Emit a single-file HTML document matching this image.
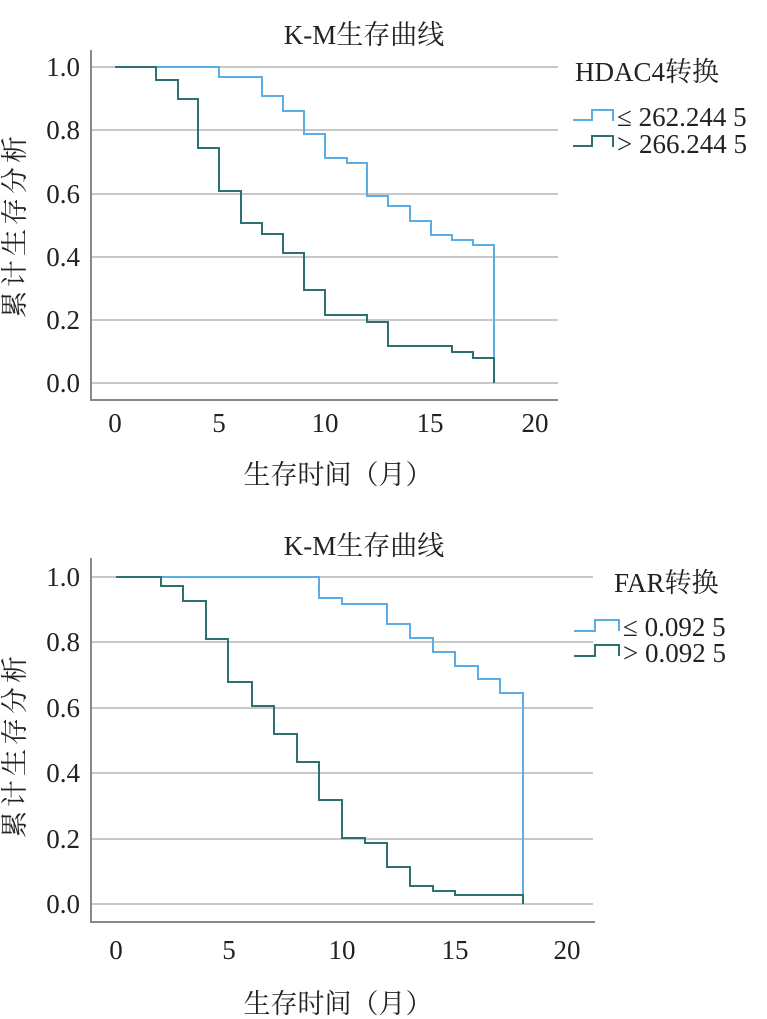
<!DOCTYPE html>
<html><head><meta charset="utf-8"><style>
html,body{margin:0;padding:0;background:#fff;}
svg{display:block;}
text{font-family:"Liberation Serif","Noto Serif CJK SC",serif;fill:#222;}
</style></head><body>
<svg width="767" height="1019" viewBox="0 0 767 1019">
<g stroke="#c8c8c8" stroke-width="2">
<line x1="91" y1="67" x2="558" y2="67"/><line x1="91" y1="130" x2="558" y2="130"/><line x1="91" y1="194" x2="558" y2="194"/><line x1="91" y1="257" x2="558" y2="257"/><line x1="91" y1="320" x2="558" y2="320"/><line x1="91" y1="383" x2="558" y2="383"/>
<line x1="91" y1="577" x2="593" y2="577"/><line x1="91" y1="642" x2="593" y2="642"/><line x1="91" y1="708" x2="593" y2="708"/><line x1="91" y1="773" x2="593" y2="773"/><line x1="91" y1="839" x2="593" y2="839"/><line x1="91" y1="904" x2="593" y2="904"/>
</g>
<g stroke="#888" stroke-width="2" fill="none">
<polyline points="91,50 91,400 558,400"/>
<polyline points="91,558 91,922 595,922"/>
</g>
<g fill="none" stroke-width="2">
<polyline stroke="#5aaee3" points="115,67 219,67 219,77 262,77 262,96 283,96 283,111 304,111 304,134 325,134 325,158 347,158 347,163 367,163 367,196 388,196 388,206 410,206 410,221 431,221 431,235 452,235 452,240 473,240 473,245 494,245 494,383"/>
<polyline stroke="#2e7070" points="115,67 156,67 156,80 178,80 178,99 198,99 198,148 219,148 219,191 241,191 241,223 262,223 262,234 283,234 283,253 304,253 304,290 325,290 325,315 367,315 367,322 388,322 388,346 452,346 452,352 473,352 473,358 494,358 494,383"/>
<polyline stroke="#5aaee3" points="116,577 319,577 319,598 342,598 342,604 387,604 387,624 410,624 410,638 433,638 433,652 455,652 455,666 478,666 478,679 500,679 500,693 523,693 523,904"/>
<polyline stroke="#2e7070" points="116,577 161,577 161,586 183,586 183,601 206,601 206,639 228,639 228,682 252,682 252,706 274,706 274,734 297,734 297,762 319,762 319,800 342,800 342,838 365,838 365,843 387,843 387,867 410,867 410,886 433,886 433,891 455,891 455,895 523,895 523,904"/>
<polyline stroke="#5aaee3" points="573,120 592,120 592,110 613,110 613,121"/>
<polyline stroke="#2e7070" points="573,146 592,146 592,136 613,136 613,147"/>
<polyline stroke="#5aaee3" points="574,631 595,631 595,620 619,620 619,631"/>
<polyline stroke="#2e7070" points="574,656 595,656 595,645 619,645 619,656"/>
</g>
<g font-size="27" text-anchor="end">
<text x="80" y="76">1.0</text><text x="80" y="139">0.8</text><text x="80" y="203">0.6</text><text x="80" y="266">0.4</text><text x="80" y="329">0.2</text><text x="80" y="392">0.0</text>
<text x="80" y="586">1.0</text><text x="80" y="651">0.8</text><text x="80" y="717">0.6</text><text x="80" y="782">0.4</text><text x="80" y="848">0.2</text><text x="80" y="913">0.0</text>
</g>
<g font-size="27" text-anchor="middle">
<text x="115" y="432">0</text><text x="219" y="432">5</text><text x="325" y="432">10</text><text x="430" y="432">15</text><text x="535" y="432">20</text>
<text x="116" y="959">0</text><text x="229" y="959">5</text><text x="342" y="959">10</text><text x="455" y="959">15</text><text x="567" y="959">20</text>
<text x="364" y="44">K-M生存曲线</text>
<text x="364" y="555">K-M生存曲线</text>
<text x="338" y="484">生存时间（月）</text>
<text x="338" y="1013">生存时间（月）</text>
<text transform="translate(24,225) rotate(-90)" letter-spacing="4">累计生存分析</text>
<text transform="translate(24,745) rotate(-90)" letter-spacing="4">累计生存分析</text>
</g>
<g font-size="27">
<text x="575" y="81">HDAC4转换</text>
<text x="617" y="126">≤ 262.244 5</text>
<text x="617" y="153">&gt; 266.244 5</text>
<text x="614" y="592">FAR转换</text>
<text x="623" y="636">≤ 0.092 5</text>
<text x="623" y="662">&gt; 0.092 5</text>
</g>
</svg>
</body></html>
